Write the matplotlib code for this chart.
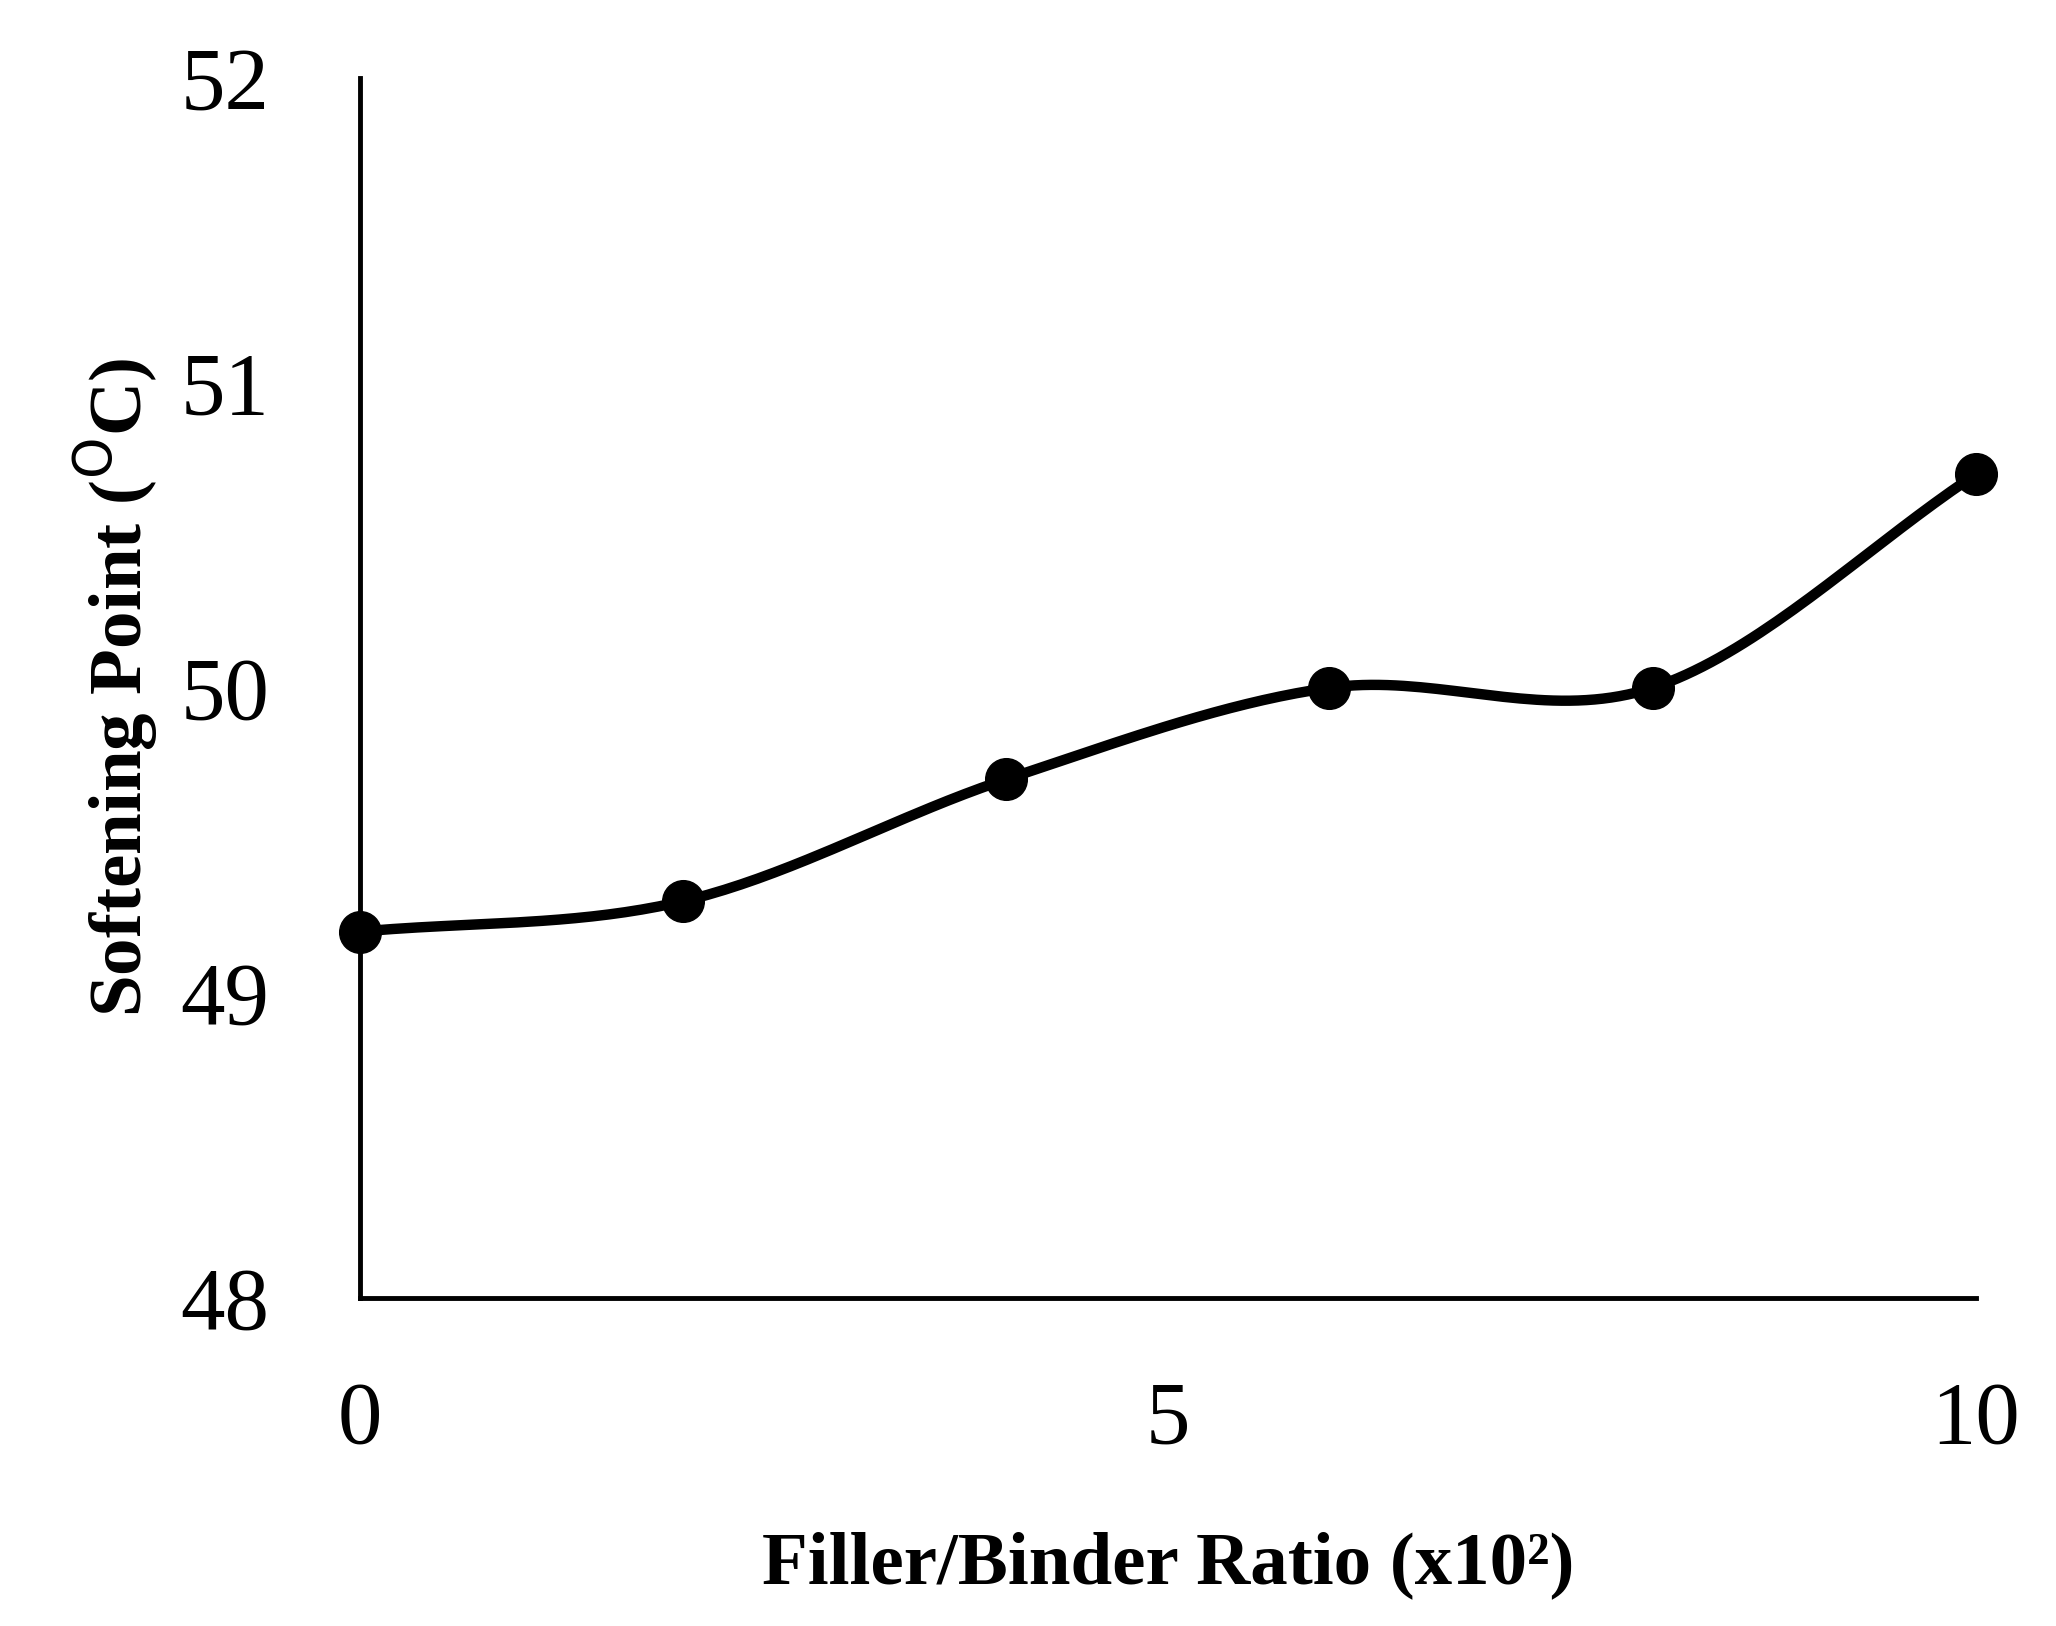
import numpy as np
import matplotlib
matplotlib.use("Agg")
import matplotlib.pyplot as plt

x_vals = [0, 2, 4, 6, 8, 10]
y_vals = [49.2, 49.3, 49.7, 50.0, 50.0, 50.7]
x_ticks = [0, 5, 10]
y_ticks = [48, 49, 50, 51, 52]

def smooth(xs, ys, n=40):
    # Catmull-Rom style smoothing similar to Excel smoothed lines
    xs = np.asarray(xs, float); ys = np.asarray(ys, float)
    px = np.concatenate([[2*xs[0]-xs[1]], xs, [2*xs[-1]-xs[-2]]])
    py = np.concatenate([[2*ys[0]-ys[1]], ys, [2*ys[-1]-ys[-2]]])
    ox, oy = [], []
    for i in range(1, len(px)-2):
        t = np.linspace(0, 1, n)
        for P, out in ((px, ox), (py, oy)):
            p0, p1, p2, p3 = P[i-1], P[i], P[i+1], P[i+2]
            out.extend(0.5*((2*p1) + (-p0+p2)*t + (2*p0-5*p1+4*p2-p3)*t**2 + (-p0+3*p1-3*p2+p3)*t**3))
    return ox, oy

plt.rcParams['font.family'] = ['Liberation Serif', 'DejaVu Serif']
fig = plt.figure(figsize=(20.56, 16.26), dpi=100)
ax = fig.add_axes([0.175, 0.202, 0.786, 0.75])
sx, sy = smooth(x_vals, y_vals)
ax.plot(sx, sy, color='black', lw=7.5, solid_capstyle='round')
ax.plot(x_vals, y_vals, 'o', color='black', ms=30, clip_on=False)
ax.set_xlim(0, 10); ax.set_ylim(48, 52)
ax.set_xticks(x_ticks); ax.set_yticks(y_ticks)
ax.tick_params(length=0, labelsize=64, pad=0)
ax.tick_params(axis='x', pad=60)
ax.tick_params(axis='y', pad=65)
for s in ['top', 'right']:
    ax.spines[s].set_visible(False)
for s in ['left', 'bottom']:
    ax.spines[s].set_linewidth(3.5)
ax.set_xlabel('Filler/Binder Ratio (x10²)', fontsize=54, fontweight='bold', labelpad=50)
ax.set_ylabel('Softening Point ($^{\\rm O}$C)', fontsize=54, fontweight='bold', labelpad=15)
fig.savefig('out.png', dpi=100)
